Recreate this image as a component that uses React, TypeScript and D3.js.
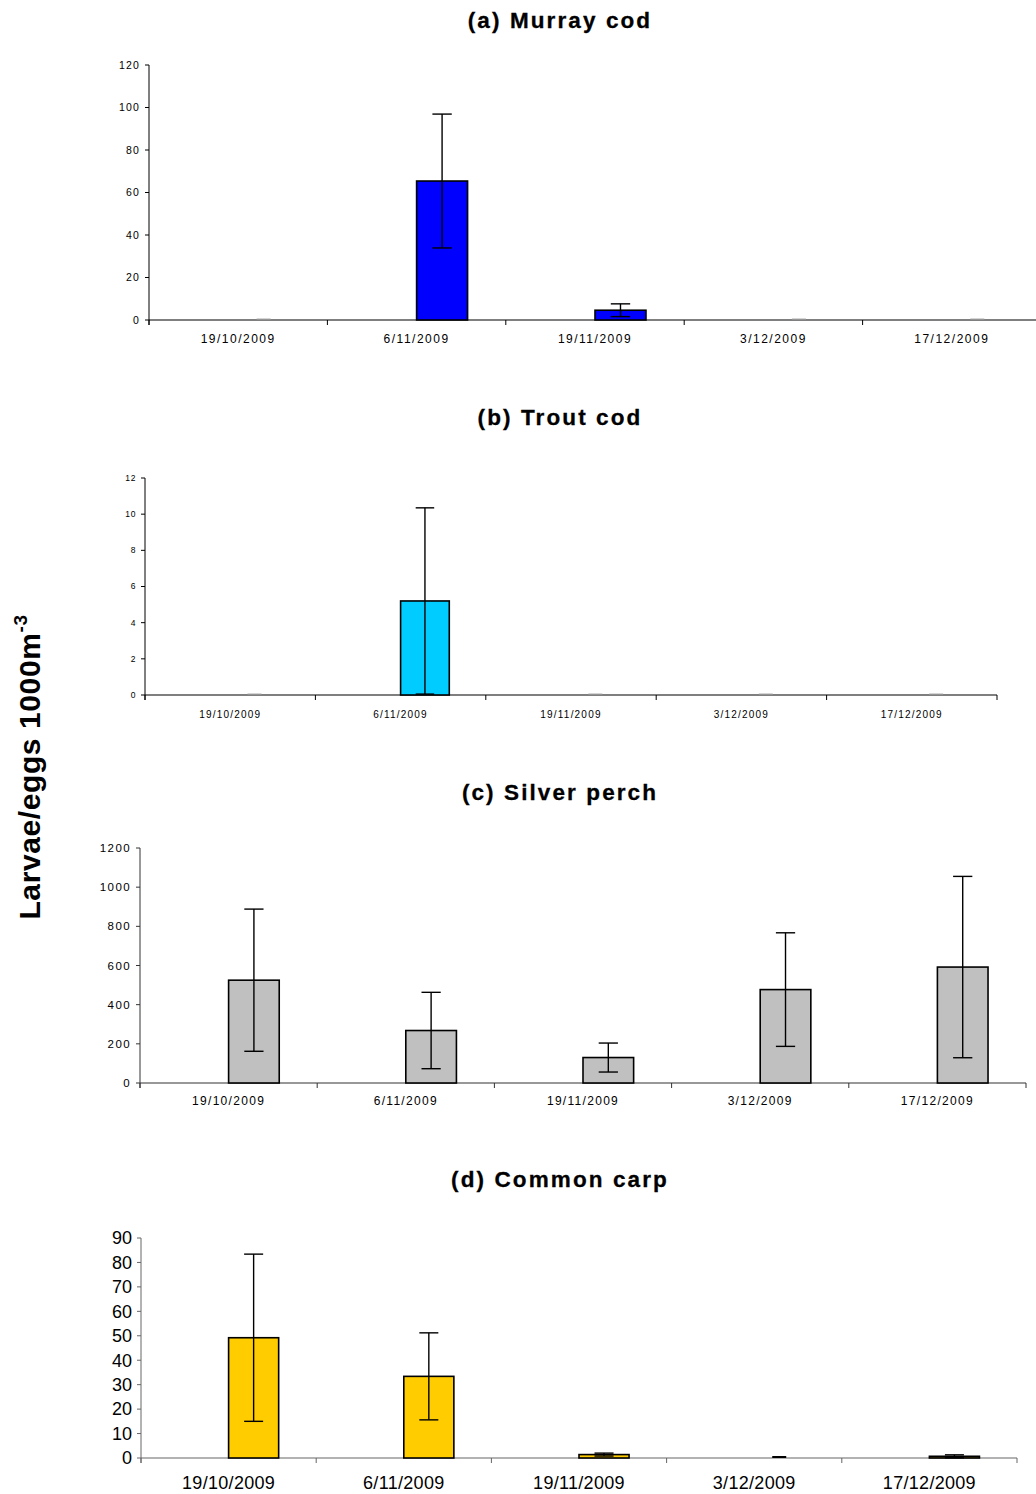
import React from "react"
import * as d3 from "d3"

// sampling dates (categories)
const dates = ["19/10/2009", "6/11/2009", "19/11/2009", "3/12/2009", "17/12/2009"]

// mean density and error (larvae/eggs per 1000 m3)
const murrayMean = [0, 65.4, 4.6, 0, 0]
const murrayErr = [0, 31.5, 3.0, 0, 0]
const troutMean = [0, 5.2, 0, 0, 0]
const troutErr = [0, 5.15, 0, 0, 0]
const silverMean = [525, 268, 130, 477, 592]
const silverErr = [363, 195, 74, 290, 463]
const carpMean = [49.2, 33.4, 1.4, 0, 0.7]
const carpErr = [34.2, 17.8, 0.6, 0, 0.6]

const murrayTicks = [0, 20, 40, 60, 80, 100, 120]
const troutTicks = [0, 2, 4, 6, 8, 10, 12]
const silverTicks = [0, 200, 400, 600, 800, 1000, 1200]
const carpTicks = [0, 10, 20, 30, 40, 50, 60, 70, 80, 90]

const FONT = "'Liberation Sans', Arial, sans-serif"

const Panel = ({ title, titleY, mean, err, ticks, color, left, right, top, bottom,
    yFont, yLs, xFont, xLs, xLabelY, axisColor, zeroColor }) => {
    const x = d3.scaleBand().domain(dates).range([left, right]).padding(0)
    const y = d3.scaleLinear().domain([0, ticks[ticks.length - 1]]).range([bottom, top])
    const bw = x.bandwidth()
    const barW = bw / 3.5
    const cap = barW * 0.38
    const edges = dates.map(d => x(d)).concat([right])
    return (
        <g>
            <text x={560} y={titleY} textAnchor="middle" fontFamily={FONT} fontWeight="bold"
                fontSize={22.5} letterSpacing={2.1} fill="#000" stroke="#000" strokeWidth={0.3}>{title}</text>
            {/* y axis */}
            <line x1={left} x2={left} y1={top} y2={bottom + 5} stroke={axisColor} strokeWidth={1} />
            {ticks.map(t => (
                <g key={t}>
                    <line x1={left - 4} x2={left} y1={y(t)} y2={y(t)} stroke={axisColor} />
                    <text x={left - 9} y={y(t)} dy="0.35em" textAnchor="end" fontFamily={FONT}
                        fontSize={yFont} letterSpacing={yLs} fill="#000">{t}</text>
                </g>
            ))}
            {/* x axis */}
            <line x1={left} x2={right} y1={bottom} y2={bottom} stroke={axisColor} strokeWidth={1.2} />
            {edges.map((e, i) => (
                <line key={i} x1={e} x2={e} y1={bottom} y2={bottom + 5} stroke={axisColor} />
            ))}
            {dates.map(d => (
                <text key={d} x={x(d) + bw / 2} y={xLabelY} textAnchor="middle" fontFamily={FONT}
                    fontSize={xFont} letterSpacing={xLs} fill="#000">{d}</text>
            ))}
            {/* bars */}
            {dates.map((d, i) => {
                const cx = x(d) + bw / 2
                const bc = cx + barW / 2
                if (mean[i] === 0) {
                    return <line key={d} x1={bc - 7} x2={bc + 7} y1={bottom - 1} y2={bottom - 1}
                        stroke={zeroColor} strokeWidth={zeroColor === "#000" ? 2 : 1} />
                }
                const lo = Math.max(0, mean[i] - err[i])
                const hi = mean[i] + err[i]
                return (
                    <g key={d}>
                        <rect x={cx} y={y(mean[i])} width={barW} height={bottom - y(mean[i])}
                            fill={color} stroke="#000" strokeWidth={1.6} />
                        <line x1={bc} x2={bc} y1={y(hi)} y2={y(lo)} stroke="#000" strokeWidth={1.4} />
                        <line x1={bc - cap / 2} x2={bc + cap / 2} y1={y(hi)} y2={y(hi)} stroke="#000" strokeWidth={1.4} />
                        {lo > 0 && <line x1={bc - cap / 2} x2={bc + cap / 2} y1={y(lo)} y2={y(lo)} stroke="#000" strokeWidth={1.4} />}
                    </g>
                )
            })}
        </g>
    )
}

export default function App() {
    return (
        <svg width={1036} height={1494} style={{ position: "absolute", left: 0, top: 0, background: "#fff" }}>
            <Panel title="(a) Murray cod" titleY={28} mean={murrayMean} err={murrayErr} ticks={murrayTicks}
                color="#0000FF" left={149} right={1041} top={65} bottom={320}
                yFont={10.5} yLs={1.2} xFont={12} xLs={1.5} xLabelY={343} axisColor="#000" zeroColor="#aaa" />
            <Panel title="(b) Trout cod" titleY={425} mean={troutMean} err={troutErr} ticks={troutTicks}
                color="#00CCFF" left={145} right={997} top={478} bottom={695}
                yFont={8.5} yLs={0.6} xFont={10} xLs={1.2} xLabelY={718} axisColor="#000" zeroColor="#aaa" />
            <Panel title="(c) Silver perch" titleY={800} mean={silverMean} err={silverErr} ticks={silverTicks}
                color="#C0C0C0" left={140} right={1026} top={848} bottom={1083}
                yFont={11.5} yLs={1.4} xFont={12} xLs={1.3} xLabelY={1105} axisColor="#333" zeroColor="#aaa" />
            <Panel title="(d) Common carp" titleY={1187} mean={carpMean} err={carpErr} ticks={carpTicks}
                color="#FFCC00" left={141} right={1017} top={1238} bottom={1458}
                yFont={18} yLs={0} xFont={18} xLs={0.3} xLabelY={1489} axisColor="#666" zeroColor="#000" />
            <text transform="translate(40,767) rotate(-90)" textAnchor="middle" fontFamily={FONT}
                fontWeight="bold" fontSize={30} letterSpacing={0.6} fill="#000">
                Larvae/eggs 1000m<tspan dy={-13} fontSize={19}>-3</tspan>
            </text>
        </svg>
    )
}
